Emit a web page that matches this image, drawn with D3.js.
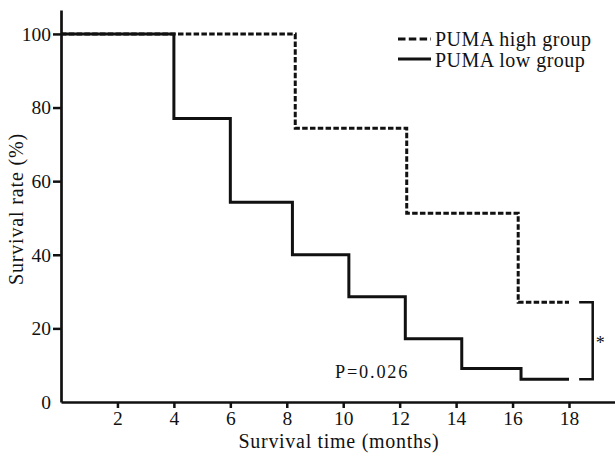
<!DOCTYPE html>
<html>
<head>
<meta charset="utf-8">
<script src="https://cdn.jsdelivr.net/npm/d3@7"></script>
<style>
  html, body { margin: 0; padding: 0; background: #fff; }
  svg { display: block; }
  text { font-family: "Liberation Serif", "Times New Roman", serif; fill: #111; }
</style>
</head>
<body>
<div id="chart"></div>
<script>
// Kaplan-Meier steps (months, % surviving)
var lowTimes = [0, 4, 6, 8.2, 10.2, 12.2, 14.2, 16.3, 18];
var lowSurv = [100, 77, 54.3, 40, 28.6, 17.2, 9.1, 6.2, 6.2];
var highTimes = [0, 8.3, 12.25, 16.2, 18];
var highSurv = [100, 74.4, 51.3, 27.1, 27.1];

var xTicks = [2, 4, 6, 8, 10, 12, 14, 16, 18];
var yTicks = [0, 20, 40, 60, 80, 100];
var legendLabels = ['PUMA high group', 'PUMA low group'];
var pLabel = 'P=0.026';

(function () {
  'use strict';

  var width = 615, height = 455;
  var left = 61, bottom = 402;
  var serif = '"Liberation Serif", "Times New Roman", serif';

  var svg = d3.select('#chart').append('svg')
    .attr('width', width)
    .attr('height', height);

  // x axis runs off the right edge, y axis tops out a bit above 100
  var x = d3.scaleLinear().domain([0, 19.63]).range([left, width]);
  var y = d3.scaleLinear().domain([0, 106.5]).range([bottom, 10]);

  function steps(times, surv) {
    return times.map(function (t, i) { return [t, surv[i]]; });
  }
  var line = d3.line()
    .x(function (d) { return x(d[0]); })
    .y(function (d) { return y(d[1]); })
    .curve(d3.curveStepAfter);

  // Axes
  var xAxis = svg.append('g')
    .attr('transform', 'translate(0,' + bottom + ')')
    .call(d3.axisBottom(x).tickValues(xTicks).tickSize(6).tickPadding(3).tickSizeOuter(0));
  var yAxis = svg.append('g')
    .attr('transform', 'translate(' + left + ',0)')
    .call(d3.axisLeft(y).tickValues(yTicks).tickSize(8).tickPadding(2).tickSizeOuter(0));

  [xAxis, yAxis].forEach(function (a) {
    a.attr('font-family', serif).attr('font-size', 19.5);
    a.select('.domain').attr('stroke', '#111').attr('stroke-width', 2.7);
    a.selectAll('.tick line').attr('stroke', '#111').attr('stroke-width', 2.5);
    a.selectAll('.tick text').attr('fill', '#111');
  });
  // "0" sits beside the corner
  yAxis.selectAll('.tick').filter(function (d) { return d === 0; }).select('line').remove();

  // Curves
  svg.append('path')
    .datum(steps(lowTimes, lowSurv))
    .attr('d', line)
    .attr('fill', 'none')
    .attr('stroke', '#111')
    .attr('stroke-width', 3);

  svg.append('path')
    .datum(steps(highTimes, highSurv))
    .attr('d', line)
    .attr('fill', 'none')
    .attr('stroke', '#111')
    .attr('stroke-width', 3)
    .attr('stroke-dasharray', '5.5,2.3');

  // Significance bracket between the two end points
  var bx = x(18.84), bx0 = x(18.36);
  var yTop = y(highSurv[highSurv.length - 1]);
  var yBot = y(lowSurv[lowSurv.length - 1]);
  svg.append('path')
    .attr('d', 'M' + bx0 + ',' + yTop + 'H' + bx + 'V' + yBot + 'H' + bx0)
    .attr('fill', 'none')
    .attr('stroke', '#111')
    .attr('stroke-width', 2.5);
  svg.append('text')
    .attr('x', bx + 7.5)
    .attr('y', (yTop + yBot) / 2 + 8.5)
    .attr('text-anchor', 'middle')
    .style('font-size', '18px')
    .text('*');

  svg.append('text')
    .attr('x', 335)
    .attr('y', 378)
    .style('font-size', '18.3px')
    .style('letter-spacing', '1.8px')
    .text(pLabel);

  // Axis titles
  svg.append('text')
    .attr('x', 339)
    .attr('y', 448)
    .attr('text-anchor', 'middle')
    .style('font-size', '20px')
    .style('letter-spacing', '0.7px')
    .text('Survival time (months)');

  svg.append('text')
    .attr('transform', 'translate(23,209) rotate(-90)')
    .attr('text-anchor', 'middle')
    .style('font-size', '20px')
    .style('letter-spacing', '0.85px')
    .text('Survival rate (%)');

  // Legend
  var legend = svg.append('g').attr('transform', 'translate(398,39)');
  legend.selectAll('line')
    .data(legendLabels)
    .join('line')
    .attr('x1', 0).attr('x2', 33)
    .attr('y1', function (d, i) { return i * 20; })
    .attr('y2', function (d, i) { return i * 20; })
    .attr('stroke', '#111')
    .attr('stroke-width', 3)
    .attr('stroke-dasharray', function (d, i) { return i === 0 ? '7.5,3.3' : null; });
  legend.selectAll('text')
    .data(legendLabels)
    .join('text')
    .attr('x', 37)
    .attr('y', function (d, i) { return 7 + i * 21; })
    .style('font-size', '20px')
    .style('letter-spacing', '0.5px')
    .text(function (d) { return d; });
})();
</script>
</body>
</html>
